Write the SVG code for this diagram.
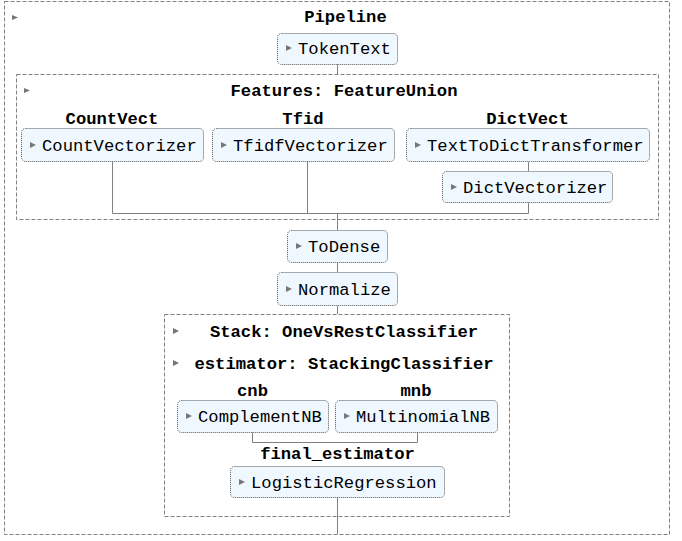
<svg xmlns="http://www.w3.org/2000/svg" width="682" height="541" viewBox="0 0 682 541">
<defs>
<style>
.cont{fill:none;stroke:#808080;stroke-width:1;stroke-dasharray:4 2}
.box{fill:#f0f8ff;stroke:#555;stroke-width:1;stroke-dasharray:1 1}
.t{font-family:"Liberation Mono","Courier New",monospace;font-size:17.2px;fill:#000}
.b{font-family:"Liberation Mono","Courier New",monospace;font-size:17.2px;font-weight:bold;fill:#000;text-anchor:middle}
.arr{fill:#777}
.c{fill:none;stroke:#808080;stroke-width:1}
</style>
</defs>
<rect width="682" height="541" fill="#fff"/>
<g id="connectors">
<path class="c" d="M337.5 64V74"/>
<path class="c" d="M112.5 162V213.5H528.5M307.5 162V213.5M528.5 162V171M528.5 202V213.5"/>
<path class="c" d="M337.5 213.5V230M337.5 263V272M337.5 306V314"/>
<path class="c" d="M252.5 432V442.5H417.5V432"/>
<path class="c" d="M337.5 497V534"/>
</g>
<g id="pipeline">
<rect class="cont" x="4.5" y="1.5" width="665" height="533"/>
<polygon class="arr" points="12,15 18,17.5 12,20"/>
<text class="b" x="345.5" y="22">Pipeline</text>
</g>
<g id="tokentext">
<rect class="box" x="277.5" y="33.5" width="120" height="31" rx="4"/>
<polygon class="arr" points="286,45 292,48 286,51"/>
<text class="t" x="298" y="54">TokenText</text>
</g>
<g id="features">
<rect class="cont" x="16.5" y="74.5" width="642" height="145"/>
<polygon class="arr" points="24,88 30,90.5 24,93"/>
<text class="b" x="344" y="96">Features: FeatureUnion</text>
<text class="b" x="112" y="124">CountVect</text>
<text class="b" x="303" y="124">Tfid</text>
<text class="b" x="527.5" y="124">DictVect</text>
</g>
<g id="countvectorizer">
<rect class="box" x="21.5" y="128.5" width="182" height="33" rx="4"/>
<polygon class="arr" points="30,142 36,145 30,148"/>
<text class="t" x="42" y="151">CountVectorizer</text>
</g>
<g id="tfidfvectorizer">
<rect class="box" x="212.5" y="128.5" width="182" height="33" rx="4"/>
<polygon class="arr" points="221,142 227,145 221,148"/>
<text class="t" x="233" y="151">TfidfVectorizer</text>
</g>
<g id="texttodict">
<rect class="box" x="406.5" y="128.5" width="243" height="33" rx="4"/>
<polygon class="arr" points="415,142 421,145 415,148"/>
<text class="t" x="427" y="151">TextToDictTransformer</text>
</g>
<g id="dictvectorizer">
<rect class="box" x="442.5" y="171.5" width="170" height="31" rx="4"/>
<polygon class="arr" points="451,184 457,187 451,190"/>
<text class="t" x="463" y="193">DictVectorizer</text>
</g>
<g id="todense">
<rect class="box" x="287.5" y="230.5" width="100" height="32" rx="4"/>
<polygon class="arr" points="296,243 302,246 296,249"/>
<text class="t" x="308" y="252">ToDense</text>
</g>
<g id="normalize">
<rect class="box" x="277.5" y="272.5" width="120" height="33" rx="4"/>
<polygon class="arr" points="286,286 292,289 286,292"/>
<text class="t" x="298" y="295">Normalize</text>
</g>
<g id="stack">
<rect class="cont" x="164.5" y="314.5" width="345" height="202"/>
<polygon class="arr" points="173,328 179,331 173,334"/>
<text class="b" x="344" y="337">Stack: OneVsRestClassifier</text>
<polygon class="arr" points="173,360 179,363 173,366"/>
<text class="b" x="344" y="369">estimator: StackingClassifier</text>
<text class="b" x="252.5" y="396">cnb</text>
<text class="b" x="416" y="396">mnb</text>
<text class="b" x="337.5" y="459">final_estimator</text>
</g>
<g id="complementnb">
<rect class="box" x="177.5" y="400.5" width="151" height="32" rx="4"/>
<polygon class="arr" points="186,413 192,416 186,419"/>
<text class="t" x="198" y="422">ComplementNB</text>
</g>
<g id="multinomialnb">
<rect class="box" x="335.5" y="400.5" width="162" height="32" rx="4"/>
<polygon class="arr" points="344,413 350,416 344,419"/>
<text class="t" x="356" y="422">MultinomialNB</text>
</g>
<g id="logisticregression">
<rect class="box" x="230.5" y="466.5" width="214" height="31" rx="4"/>
<polygon class="arr" points="239,479 245,482 239,485"/>
<text class="t" x="251" y="488">LogisticRegression</text>
</g>
</svg>
